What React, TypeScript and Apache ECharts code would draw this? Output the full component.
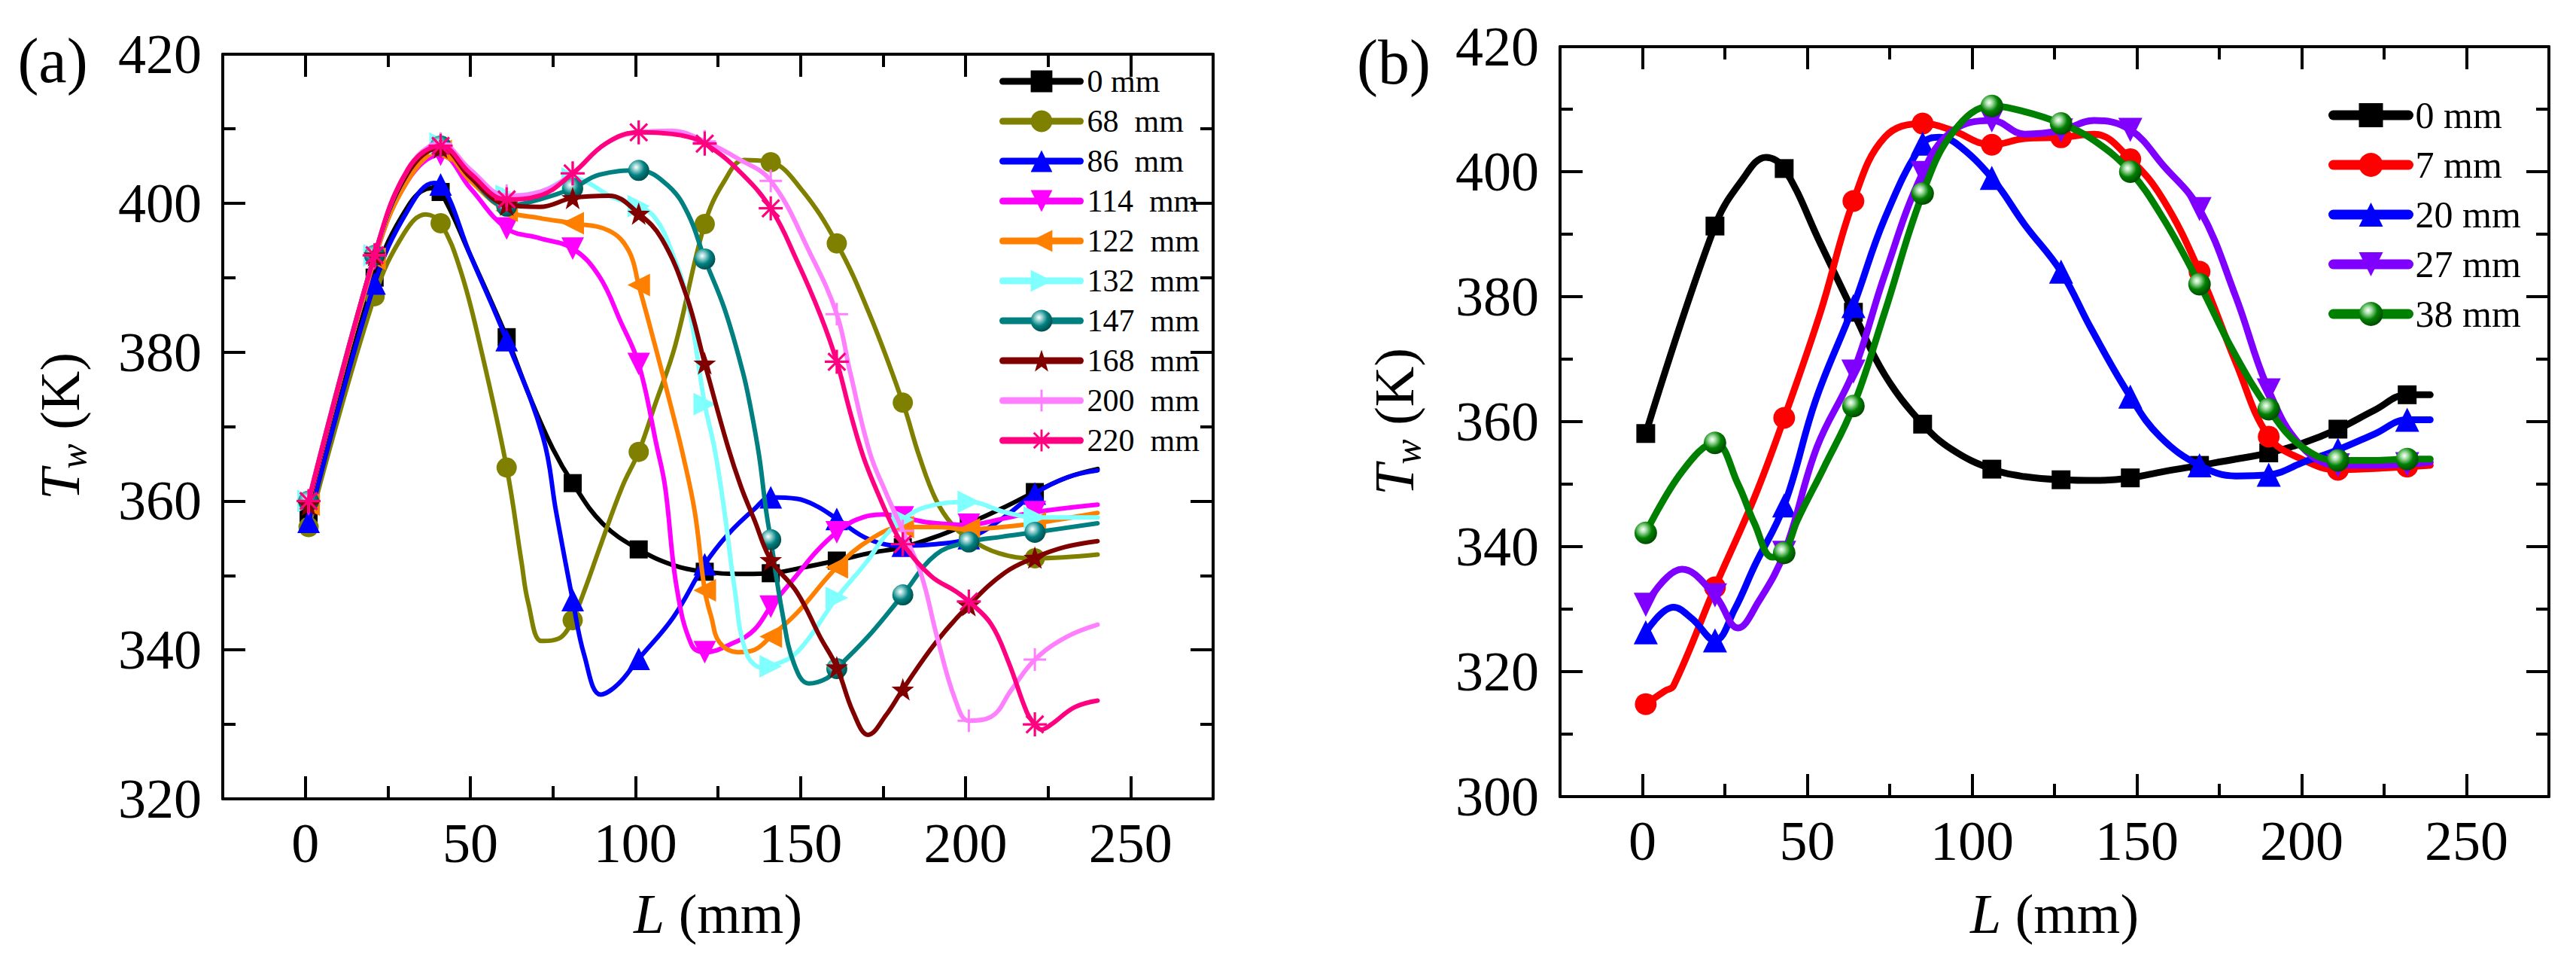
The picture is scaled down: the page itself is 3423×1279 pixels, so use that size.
import React, { useEffect, useRef } from 'react';
import * as echarts from 'echarts';

const FONT = "'Liberation Serif', 'Times New Roman', serif";

// ---------- axis ticks ----------
const X_MAJOR = [0, 50, 100, 150, 200, 250];
const X_MINOR = [25, 75, 125, 175, 225];

// marker positions (L, mm) along each curve
const MARK_A = [1, 21, 41, 61, 81, 101, 121, 141, 161, 181, 201, 221];
const MARK_B = [1, 22, 43, 64, 85, 106, 127, 148, 169, 190, 211, 232];

// ---------- panel (a) ----------
const LEGEND_A = ['0 mm', '68  mm', '86  mm', '114  mm', '122  mm', '132  mm', '147  mm', '168  mm', '200  mm', '220  mm'];

const A_0 = [[1,358],[21,390],[31,399.5],[38,402],[41,401.5],[50,393],[61,382],[68,374],[75,367],[81,362.4],[90,357],[101,353.5],[112,351.3],[121,350.5],[131,350.2],[141,350.3],[150,351],[161,352],[171,353],[181,353.8],[191,355.2],[201,357],[211,359],[221,361.2],[231,363.2],[240,364.3]];
const A_68 = [[1,356.5],[21,387.5],[30,396],[36.5,398.5],[41,397.3],[47,391],[53,380.8],[61,364.5],[65.5,351.8],[67.5,346.4],[71.5,341.2],[75,341.3],[78,341.9],[81,344],[85,348.5],[89,353.5],[96,361.9],[101,366.6],[106,373],[112,380.8],[121,397.2],[127,403],[133,405.8],[141,405.5],[150,402],[161,394.6],[171,385],[181,373.2],[186,366],[191,360.2],[196,356.8],[201,355],[210,353],[221,352.3],[240,352.8]];
const A_86 = [[1,357.2],[21,389.2],[31,399],[39,402.7],[41,402.5],[50,393],[61,381.6],[72,368.6],[76,358.5],[81,346.7],[84.5,339.3],[89.5,334],[94.5,335.3],[101,338.8],[111.5,344.4],[121,351.5],[128,355.5],[136,358.9],[141,360.5],[149,360.3],[155,359.3],[161,357.6],[171,354.8],[181,354],[191,354.2],[201,355],[211,357.6],[221,361],[231,363.2],[240,364.1]];
const A_114 = [[1,359.5],[21,392.5],[31,403],[41,406.5],[50,402],[61,396.6],[71,395.3],[81,393.9],[89,390.2],[95.5,384.1],[101,378.4],[106.5,367.3],[109,361.9],[112.5,348.4],[117,340.7],[121,339.7],[130,341],[136,342.7],[141,345.8],[149,350.1],[155,353.3],[161,355.8],[167,357.5],[175,358.2],[181,357.8],[189,357.1],[201,356.8],[211,357.6],[221,358.5],[240,359.5]];
const A_122 = [[1,359.5],[21,392.5],[31,403],[41,407],[50,403],[61,399],[71,398],[81,397.3],[92,396.3],[98,393.6],[101,389],[106,380.8],[111,372.3],[114.5,366],[118,358.5],[121,348],[123,344.4],[125.5,341],[131,339.7],[136,340],[141,341.8],[149,345],[161,351.1],[171,354.8],[181,356.5],[191,356.5],[201,356.2],[211,356.5],[221,357],[240,358.4]];
const A_132 = [[1,360],[21,393],[31,404],[41,408],[50,404],[61,401],[71,401.5],[81,403.3],[93.5,400.7],[101,399.6],[106,398],[111,393.5],[116,386.5],[121,373],[124,367],[127,358.5],[130,348.4],[133.5,339.7],[138.5,337.6],[141,337.8],[149,339.7],[161,347],[170,351.8],[176,355.5],[181,357.5],[188,359.2],[201,359.9],[212,358.5],[221,357.8],[240,357.8]];
const A_147 = [[1,360],[21,393],[31,404],[41,407.7],[50,403.5],[61,399.6],[71,400.5],[81,402],[89,403.8],[101,404.4],[110,402.3],[116,398.5],[121,392.5],[127,385.8],[132.5,377.4],[135,372.3],[137.5,366],[139.5,359],[141,354.8],[144.5,345],[148,338.2],[152.5,335.5],[158,336.2],[161,337.5],[171.5,342.3],[181,347.4],[191,352.8],[201,354.5],[211,355.2],[221,355.8],[240,357]];
const A_168 = [[1,359.5],[21,393],[31,404],[41,407.5],[50,403.5],[61,399.8],[71,399.5],[81,400.7],[92,401],[101,398.6],[108,395.2],[115.5,387.5],[121,378.5],[128,367.3],[132,361.9],[136,357.5],[141,352.1],[149,347.7],[156,341.7],[161,337.7],[166,331.6],[170.5,328.6],[176,331.3],[181,334.7],[191,341],[201,346],[212,350.4],[221,352.4],[230,353.8],[240,354.6]];
const A_200 = [[1,360],[21,393],[31,404.5],[41,408],[50,404.5],[61,401],[71,401.5],[81,404],[91,408],[101,409.5],[111,409.7],[121,408.3],[131,406],[141,403],[153,393.2],[161,385.1],[165,377.4],[171,366.5],[176,361],[181,356],[186.6,350.1],[191.4,341.7],[196.9,333.3],[201,330.5],[207.7,331],[214,334.7],[221,338.7],[230.4,341.7],[240,343.4]];
const A_220 = [[1,360],[21,393],[31,404.5],[41,407.7],[50,404],[61,400.5],[71,401],[81,404],[91,408],[101,409.5],[108,409.4],[115,409],[121,408],[131,404.5],[141,399.3],[149,392.2],[156,385],[161,378.7],[165,372],[169,366],[173,361.5],[178,356.5],[181,354.2],[189.6,349.9],[196.9,347.9],[201,346.5],[207.7,343.5],[213,338.4],[218.6,331.6],[221,330],[223,329.3],[226,330],[233,332.3],[240,333.2]];

// ---------- panel (b) ----------
const LEGEND_B = ['0 mm', '7 mm', '20 mm', '27 mm', '38 mm'];

const B_0 = [[1,358.1],[22,391.3],[30,398.5],[37.5,402.3],[43,400.5],[54,388.5],[64,377.5],[73.5,367.5],[85,359.6],[94,355.5],[106,352.4],[116,351.2],[127,350.7],[138,350.6],[148,351],[158,352],[169,353],[180,354],[190,355],[200,356.5],[211,358.8],[222,361.8],[232,364.3],[239,364.3]];
const B_7 = [[1,314.8],[6.8,316.9],[9.4,317.7],[22,333.5],[34,347.9],[43,360.6],[54,377.5],[64,395.3],[73.5,405.5],[85,407.7],[93.5,406.7],[106,404.3],[116,405.3],[127,405.5],[137,406],[148,402],[158,395.5],[169,384],[180,369.5],[190,357.6],[200,354],[211,352.3],[222,352.5],[232,352.8],[239,353]];
const B_20 = [[1,326.3],[9.4,330.3],[15,328.5],[22,325],[28,330],[34,336.9],[43,346.6],[52.6,363.5],[64,378.5],[73.5,392.5],[85,404.5],[90,405.5],[95,404.6],[106,399],[116,391.5],[127,384],[136,375],[148,364],[157,357.6],[169,353],[180,351.3],[190,351.5],[201,353.6],[211,355.5],[222,358],[232,360.3],[239,360.3]];
const B_27 = [[1,330.7],[12,336.4],[22,332.2],[29,327],[35,331],[43,339],[53,356],[64,368],[73.5,383.5],[85,399.8],[94,406.5],[106,408.2],[116,406],[127,406.6],[137,408.2],[148,406.7],[158,401],[169,394],[180,380],[190,365],[200,356],[211,353],[222,353],[232,353.2],[239,353.5]];
const B_38 = [[1,342.2],[12,352],[22,356.6],[29,350],[34,343.7],[39.5,338.3],[43,339],[47,344.2],[55,352.6],[64,362.5],[73.5,377.5],[85,396.5],[94.5,406.5],[106,410.5],[116,409.6],[127,407.7],[137,405],[148,400],[158,392.5],[169,382],[179,371.5],[190,362],[200,356],[211,353.8],[222,353.8],[232,354],[239,354]];

// ---------- symbols ----------
const SYM = {
  square: 'rect',
  circle: 'circle',
  up: 'path://M10,0L20,20L0,20Z',
  down: 'path://M0,0L20,0L10,20Z',
  left: 'path://M20,0L20,20L0,10Z',
  right: 'path://M0,0L20,10L0,20Z',
  star: 'path://M10,0L12.35,6.76L19.51,6.91L13.8,11.24L15.88,18.09L10,14L4.12,18.09L6.2,11.24L0.49,6.91L7.65,6.76Z',
  plus: 'path://M9,0H11V9H20V11H11V20H9V11H0V9H9Z',
  asterisk: 'path://M9,0L11,0L11,20L9,20Z M0,9L20,9L20,11L0,11Z M3.61,2.19L17.81,16.39L16.39,17.81L2.19,3.61Z M17.81,3.61L3.61,17.81L2.19,16.39L16.39,2.19Z',
};

const sphere = (base: string, light: string, dark: string) => ({
  type: 'radial', x: 0.38, y: 0.35, r: 0.65,
  colorStops: [
    { offset: 0, color: '#ffffff' },
    { offset: 0.22, color: light },
    { offset: 0.6, color: base },
    { offset: 1, color: dark },
  ],
});

const STYLE_A = [
  { data: A_0, color: '#000000', symbol: SYM.square, size: 24 },
  { data: A_68, color: '#808000', symbol: SYM.circle, size: 27 },
  { data: A_86, color: '#0000ff', symbol: SYM.up, size: 30 },
  { data: A_114, color: '#ff00ff', symbol: SYM.down, size: 30 },
  { data: A_122, color: '#ff8000', symbol: SYM.left, size: 30 },
  { data: A_132, color: '#80ffff', symbol: SYM.right, size: 30 },
  { data: A_147, color: '#008080', symbol: SYM.circle, size: 28, fill: sphere('#008080', '#9fd6d6', '#005050') },
  { data: A_168, color: '#800000', symbol: SYM.star, size: 30 },
  { data: A_200, color: '#ff80ff', symbol: SYM.plus, size: 30 },
  { data: A_220, color: '#ff0080', symbol: SYM.asterisk, size: 32 },
];

const STYLE_B = [
  { data: B_0, color: '#000000', symbol: SYM.square, size: 25 },
  { data: B_7, color: '#ff0000', symbol: SYM.circle, size: 29 },
  { data: B_20, color: '#0000ff', symbol: SYM.up, size: 32 },
  { data: B_27, color: '#8000ff', symbol: SYM.down, size: 32 },
  { data: B_38, color: '#008000', symbol: SYM.circle, size: 30, fill: sphere('#008000', '#a8e0a8', '#004d00') },
];

const withMarkers = (pts: number[][], marks: number[]) =>
  pts.map(([x, y]) => (marks.includes(x) ? [x, y] : { value: [x, y], symbol: 'none' }));

const AX = { color: '#000', width: 4 };

function xAxes(grid: number) {
  const base = {
    type: 'value', gridIndex: grid, min: -25, max: 275,
    splitLine: { show: false }, minorTick: { show: false },
  };
  const line = { show: true, onZero: false, lineStyle: AX };
  const noLine = { show: false, onZero: false };
  const major = { show: true, inside: true, length: 30, customValues: X_MAJOR, lineStyle: AX };
  const minor = { show: true, inside: true, length: 17, customValues: X_MINOR, lineStyle: AX };
  return [
    { ...base, position: 'bottom', axisLine: line, axisTick: major,
      axisLabel: { show: true, customValues: X_MAJOR, fontSize: 74, fontFamily: FONT, color: '#000', margin: 22 } },
    { ...base, position: 'bottom', axisLine: noLine, axisTick: minor, axisLabel: { show: false } },
    { ...base, position: 'top', axisLine: line, axisTick: major, axisLabel: { show: false } },
    { ...base, position: 'top', axisLine: noLine, axisTick: minor, axisLabel: { show: false } },
  ];
}

function yAxes(grid: number, min: number) {
  const base = {
    type: 'value', gridIndex: grid, min, max: 420, interval: 20,
    splitLine: { show: false },
    axisLine: { show: true, onZero: false, lineStyle: AX },
    axisTick: { show: true, inside: true, length: 30, lineStyle: AX },
    minorTick: { show: true, splitNumber: 2, length: 17, lineStyle: AX },
  };
  return [
    { ...base, position: 'left', axisLabel: { fontSize: 74, fontFamily: FONT, color: '#000', margin: 28 } },
    { ...base, position: 'right', axisLabel: { show: false } },
  ];
}

function makeSeries(styles: any[], names: string[], suffix: string, xi: number, yi: number, lw: number, marks: number[]) {
  return styles.map((s, i) => ({
    type: 'line',
    name: names[i] + suffix,
    xAxisIndex: xi,
    yAxisIndex: yi,
    data: withMarkers(s.data, marks),
    symbol: s.symbol,
    symbolSize: s.size,
    showSymbol: true,
    showAllSymbol: true,
    smooth: 0.4,
    lineStyle: { color: s.color, width: lw, join: 'round', cap: 'round' },
    itemStyle: { color: s.fill || s.color },
    emphasis: { disabled: true },
    z: 2 + i,
  }));
}

const rich = {
  i: { fontStyle: 'italic', fontSize: 74, fontFamily: FONT, fill: '#000', lineHeight: 84 },
  s: { fontStyle: 'italic', fontSize: 50, fontFamily: FONT, fill: '#000', lineHeight: 50, verticalAlign: 'bottom' },
};

const textEl = (x: number, y: number, text: string, size: number, rotation = 0) => ({
  type: 'text', x, y, rotation, silent: true,
  style: { text, fontSize: size, fontFamily: FONT, fill: '#000', align: 'center', verticalAlign: 'middle', rich },
});

const option = {
  animation: false,
  backgroundColor: '#ffffff',
  grid: [
    { left: 296, top: 72, width: 1316, height: 989, containLabel: false },
    { left: 2073, top: 62, width: 1314, height: 996, containLabel: false },
  ],
  xAxis: [...xAxes(0), ...xAxes(1)],
  yAxis: [...yAxes(0, 320), ...yAxes(1, 300)],
  legend: [
    {
      data: LEGEND_A, orient: 'vertical', left: 1328, top: 87,
      itemWidth: 103, itemHeight: 36, itemGap: 11, padding: 0, selectedMode: false,
      textStyle: { fontSize: 42, fontFamily: FONT, color: '#000', lineHeight: 36, padding: [0, 0, 0, 4] },
      lineStyle: { width: 9 },
    },
    {
      data: LEGEND_B.map((n) => n + ' (b)'), orient: 'vertical', left: 3094, top: 128,
      itemWidth: 100, itemHeight: 40, itemGap: 16, padding: 0, selectedMode: false,
      formatter: (n: string) => n.replace(' (b)', ''),
      textStyle: { fontSize: 50, fontFamily: FONT, color: '#000', lineHeight: 40, padding: [0, 0, 0, 4] },
      lineStyle: { width: 13 },
    },
  ],
  graphic: [
    { ...textEl(70, 80, '(a)', 84) },
    { ...textEl(1852, 82, '(b)', 84) },
    textEl(80, 566, '{i|T}{s|w} (K)', 74, Math.PI / 2),
    textEl(1853, 560, '{i|T}{s|w} (K)', 74, Math.PI / 2),
    textEl(954, 1214, '{i|L} (mm)', 74),
    textEl(2730, 1214, '{i|L} (mm)', 74),
  ],
  series: [
    ...makeSeries(STYLE_A, LEGEND_A, '', 0, 0, 6, MARK_A),
    ...makeSeries(STYLE_B, LEGEND_B, ' (b)', 4, 2, 9, MARK_B),
  ],
};

export default function App() {
  const ref = useRef<HTMLDivElement>(null);
  useEffect(() => {
    const chart = echarts.init(ref.current as HTMLDivElement, null, { renderer: 'svg' });
    chart.setOption(option as any);
    return () => chart.dispose();
  }, []);
  return (
    <div
      ref={ref}
      style={{ position: 'absolute', left: 0, top: 0, width: 3423, height: 1279, background: '#fff' }}
    />
  );
}
